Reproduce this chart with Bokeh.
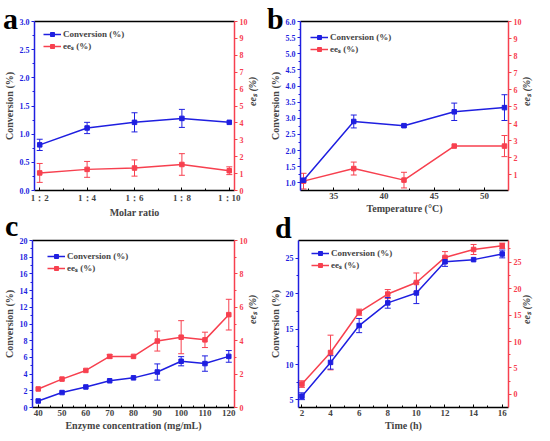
import math
from bokeh.plotting import figure
from bokeh.models import (Range1d, LinearAxis, FixedTicker, ColumnDataSource, Whisker,
                          TeeHead, Legend, LegendItem, Div)
from bokeh.layouts import column, row
from bokeh.embed import file_html
from bokeh.resources import INLINE

# ---------------- data ----------------
panel_letters = ["a", "b", "c", "d"]

molar_labels = ["1：2", "1：4", "1：6", "1：8", "1：10"]
molar_idx = [0, 1, 2, 3, 4]
conv_a = [0.81, 1.11, 1.21, 1.28, 1.21]
conv_a_err = [0.10, 0.10, 0.17, 0.16, 0.0]
ee_a = [1.04, 1.25, 1.33, 1.54, 1.17]
ee_a_err = [0.56, 0.47, 0.48, 0.64, 0.23]

temp_b = [32, 37, 42, 47, 52]
conv_b = [1.08, 2.90, 2.77, 3.20, 3.33]
conv_b_err = [0.05, 0.20, 0.04, 0.27, 0.40]
ee_b = [0.62, 1.36, 0.68, 2.68, 2.68]
ee_b_err = [0.46, 0.38, 0.46, 0.0, 0.62]

enzyme_c = [40, 50, 60, 70, 80, 90, 100, 110, 120]
conv_c = [0.78, 1.79, 2.46, 3.20, 3.55, 4.25, 5.54, 5.26, 6.12]
conv_c_err = [0.0, 0.0, 0.0, 0.0, 0.0, 0.97, 0.55, 0.92, 0.70]
ee_c = [1.11, 1.70, 2.22, 3.06, 3.06, 3.98, 4.21, 4.05, 5.56]
ee_c_err = [0.0, 0.0, 0.0, 0.10, 0.0, 0.60, 0.99, 0.46, 0.92]

time_d = [2, 4, 6, 8, 10, 12, 14, 16]
conv_d = [5.53, 10.3, 15.5, 18.7, 20.1, 24.5, 24.8, 25.6]
conv_d_err = [0.48, 0.95, 1.0, 0.75, 1.5, 0.65, 0.0, 0.55]
ee_d = [1.95, 7.92, 15.54, 18.97, 21.16, 25.9, 27.4, 28.1]
ee_d_err = [0.62, 3.28, 0.58, 0.85, 1.8, 1.1, 0.95, 0.5]

BLUE = "#1f1fe0"
RED = "#f7404f"
FONT = "Liberation Serif"


def panel(x, conv, conv_err, ee, ee_err, xr, yl, yr, xticks, xminor,
          lticks, lminor, rticks, rminor, xlabel, dims, legpos, xlabels=None, lfmt=None):
    W, H, L, R, T, B = dims
    p = figure(width=W, height=H, output_backend="svg", toolbar_location=None,
               x_range=Range1d(*xr), y_range=Range1d(*yl),
               min_border_left=L, min_border_right=R, min_border_top=T,
               min_border_bottom=B, y_axis_location=None, x_axis_location=None)
    p.outline_line_color = None
    p.xgrid.visible = False
    p.ygrid.visible = False
    p.background_fill_color = "white"
    p.border_fill_color = "white"
    p.extra_y_ranges = {"ee": Range1d(*yr)}

    # bottom axis
    xa = LinearAxis(ticker=FixedTicker(ticks=xticks, minor_ticks=xminor))
    if xlabels is not None:
        xa.major_label_overrides = {i: s for i, s in zip(xticks, xlabels)}
    xa.axis_label = xlabel
    xa.major_tick_in = 3
    xa.major_tick_out = 0
    xa.minor_tick_in = 2
    xa.minor_tick_out = 0
    xa.axis_line_width = 1.5
    xa.major_label_standoff = 2
    xa.axis_label_standoff = 1
    xa.major_label_text_font = FONT
    xa.major_label_text_font_style = "bold"
    xa.major_label_text_font_size = "9px"
    xa.axis_label_text_font = FONT
    xa.axis_label_text_font_style = "bold"
    xa.axis_label_text_font_size = "10px"
    p.add_layout(xa, "below")

    # top line
    ta = LinearAxis(ticker=FixedTicker(ticks=[]))
    ta.major_label_text_font_size = "0px"
    ta.major_tick_out = 0
    ta.minor_tick_out = 0
    ta.axis_line_width = 1.5
    p.add_layout(ta, "above")

    # left axis
    la = LinearAxis(ticker=FixedTicker(ticks=lticks, minor_ticks=lminor))
    if lfmt is not None:
        la.major_label_overrides = {t: lfmt.format(t) for t in lticks}
    la.axis_label = "Conversion (%)"
    la.axis_line_color = BLUE
    la.axis_line_width = 1.5
    la.major_tick_line_color = BLUE
    la.minor_tick_line_color = BLUE
    la.major_tick_out = 3
    la.major_tick_in = 0
    la.minor_tick_out = 2
    la.minor_tick_in = 0
    la.major_label_text_color = BLUE
    la.major_label_standoff = 2
    la.axis_label_standoff = 2
    la.major_label_text_font = FONT
    la.major_label_text_font_style = "bold"
    la.major_label_text_font_size = "8px"
    la.axis_label_text_font = FONT
    la.axis_label_text_font_style = "bold"
    la.axis_label_text_font_size = "10px"
    p.add_layout(la, "left")

    # right axis
    ra = LinearAxis(y_range_name="ee", ticker=FixedTicker(ticks=rticks, minor_ticks=rminor))
    ra.axis_label = "eeₛ (%)"
    ra.axis_line_color = RED
    ra.axis_line_width = 1.5
    ra.major_tick_line_color = RED
    ra.minor_tick_line_color = RED
    ra.major_tick_out = 3
    ra.major_tick_in = 0
    ra.minor_tick_out = 2
    ra.minor_tick_in = 0
    ra.major_label_text_color = RED
    ra.major_label_standoff = 2
    ra.axis_label_standoff = 2
    ra.major_label_text_font = FONT
    ra.major_label_text_font_style = "bold"
    ra.major_label_text_font_size = "8px"
    ra.axis_label_text_font = FONT
    ra.axis_label_text_font_style = "bold italic"
    ra.axis_label_text_font_size = "10px"
    try:
        ra.axis_label_orientation = math.pi / 2
    except Exception:
        pass
    p.add_layout(ra, "right")

    # error bars
    def whisk(xs, ys, es, color, rname):
        xx = [a for a, e in zip(xs, es) if e > 0]
        up = [y + e for y, e in zip(ys, es) if e > 0]
        lo = [y - e for y, e in zip(ys, es) if e > 0]
        src = ColumnDataSource(dict(x=xx, upper=up, lower=lo))
        kw = {}
        if rname:
            kw["y_range_name"] = rname
        w = Whisker(source=src, base="x", upper="upper", lower="lower",
                    line_color=color, line_width=1,
                    upper_head=TeeHead(size=6, line_color=color, line_width=1),
                    lower_head=TeeHead(size=6, line_color=color, line_width=1), **kw)
        p.add_layout(w)

    whisk(x, ee, ee_err, RED, "ee")
    whisk(x, conv, conv_err, BLUE, None)

    r1 = p.line(x, ee, line_color=RED, line_width=1.5, y_range_name="ee")
    r2 = p.scatter(x, ee, marker="square", size=4.5, fill_color=RED, line_color=RED,
                   y_range_name="ee")
    r3 = p.line(x, conv, line_color=BLUE, line_width=1.5)
    r4 = p.scatter(x, conv, marker="square", size=4.5, fill_color=BLUE, line_color=BLUE)

    fh = H - T - B
    pad = 4
    gx, gy = legpos
    leg_h = 30
    loc = (gx - pad, fh - (gy - pad - 5) - leg_h)
    leg = Legend(items=[LegendItem(label="Conversion (%)", renderers=[r3, r4]),
                        LegendItem(label="eeₛ (%)", renderers=[r1, r2])],
                 location=loc, margin=0, padding=pad, spacing=0,
                 glyph_width=18, glyph_height=10, label_standoff=2,
                 label_text_font=FONT, label_text_font_style="bold",
                 label_text_font_size="9px", label_height=10,
                 background_fill_alpha=0, border_line_color=None)
    p.add_layout(leg)
    return p


pa = panel(molar_idx, conv_a, conv_a_err, ee_a, ee_a_err,
           (-0.11, 4.11), (0, 3.0), (0, 10),
           molar_idx, [0.5, 1.5, 2.5, 3.5],
           [0, 0.5, 1.0, 1.5, 2.0, 2.5, 3.0], [0.25, 0.75, 1.25, 1.75, 2.25, 2.75],
           list(range(0, 11)), [],
           "Molar ratio", (266, 210, 26, 26, 11, 26), (13, 14),
           xlabels=molar_labels, lfmt="{:.1f}")

pb = panel(temp_b, conv_b, conv_b_err, ee_b, ee_b_err,
           (31.7, 52.4), (0.76, 6.0), (0.07, 10),
           [35, 40, 45, 50], [32.5, 37.5, 42.5, 47.5, 52.5],
           [1.0, 1.5, 2.0, 2.5, 3.0, 3.5, 4.0, 4.5, 5.0, 5.5, 6.0],
           [1.25, 1.75, 2.25, 2.75, 3.25, 3.75, 4.25, 4.75, 5.25, 5.75],
           list(range(1, 11)), [],
           "Temperature (°C)", (274, 210, 30, 28, 8, 28), (14, 18), lfmt="{:.1f}")

pc = panel(enzyme_c, conv_c, conv_c_err, ee_c, ee_c_err,
           (37.6, 122.4), (0, 20), (0, 10),
           enzyme_c, [45, 55, 65, 75, 85, 95, 105, 115],
           list(range(0, 21, 2)), list(range(1, 20, 2)),
           list(range(0, 11, 2)), list(range(1, 10, 2)),
           "Enzyme concentration (mg/mL)", (266, 213, 26, 26, 20, 24), (19, 15))

pd_ = panel(time_d, conv_d, conv_d_err, ee_d, ee_d_err,
            (1.76, 16.44), (3.94, 27.5), (-2.48, 29.1),
            time_d, [3, 5, 7, 9, 11, 13, 15],
            [5, 10, 15, 20, 25], [7.5, 12.5, 17.5, 22.5],
            [0, 5, 10, 15, 20, 25], [2.5, 7.5, 12.5, 17.5, 22.5, 27.5],
            "Time (h)", (274, 213, 25, 27, 18, 22), (17, 16))

# panel letters, overlaid (positions relative to the top-left of the layout)
letter_offsets = [(-2, 2), (262, 2), (0, 209), (270, 211)]
spans = "".join(
    f'<span style="position:absolute;left:{lx}px;top:{ly}px;line-height:0.8;'
    f'font-family:\'Liberation Serif\';font-weight:bold;font-size:30px;color:black;">{t}</span>'
    for t, (lx, ly) in zip(panel_letters, letter_offsets))
letters = Div(text=spans, width=0, height=0,
              styles={"position": "relative", "overflow": "visible", "z-index": "10"})

layout = column(letters, row(pa, pb), row(pc, pd_), spacing=0)
open("out.html", "w").write(file_html(layout, INLINE))
